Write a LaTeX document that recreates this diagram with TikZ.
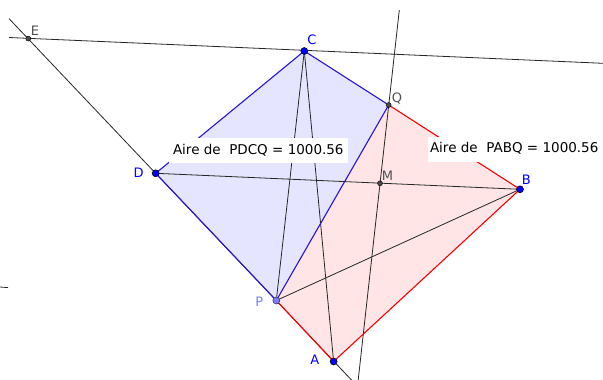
\documentclass[tikz,border=0pt]{standalone}
\usepackage{fontspec}
\setmainfont{DejaVu Sans}
\definecolor{polyblue}{RGB}{40,20,210}
\definecolor{fillblue}{RGB}{229,229,255}
\definecolor{fillred}{RGB}{255,229,229}
\definecolor{ptblue}{RGB}{0,0,255}
\definecolor{ptlight}{RGB}{125,125,255}
\definecolor{lblgray}{RGB}{80,80,80}
\begin{document}
\begin{tikzpicture}[x=1pt,y=-1pt,
  blk/.style={line width=0.8pt, black!85},
  bedge/.style={line width=1.1pt, color=polyblue},
  redge/.style={line width=1.1pt, color=red},
  bpt/.style={circle, fill=ptblue, draw=black, line width=0.5pt, inner sep=0pt, minimum size=7pt},
  lpt/.style={circle, fill=ptlight, draw=black!80, line width=0.5pt, inner sep=0pt, minimum size=7pt},
  gpt/.style={circle, fill=black!70, draw=black, line width=0.4pt, inner sep=0pt, minimum size=5pt},
  lbl/.style={font=\fontsize{13}{15}\selectfont, anchor=base, inner sep=0pt},
  areabox/.style={fill=white, inner ysep=6pt, text height=10pt, text depth=3pt, font=\fontsize{13.5}{16}\selectfont, anchor=west}]
\useasboundingbox (0,0) rectangle (603,380);
% points
\coordinate (E) at (28.3,38.6);
\coordinate (C) at (304.3,51);
\coordinate (Q) at (388.7,105);
\coordinate (D) at (155.7,173.3);
\coordinate (M) at (380,183.3);
\coordinate (B) at (520,189.3);
\coordinate (P) at (276.3,300.5);
\coordinate (A) at (333.6,361.5);
% line ends
\coordinate (Ea) at (9,37.5);
\coordinate (Eb) at (603,63.3);
\coordinate (Da) at (9,18.6);
\coordinate (Db) at (351.5,380);
\coordinate (Va) at (399.3,10);
\coordinate (Vb) at (358.2,380);
\coordinate (Sa) at (0,287);
\coordinate (Sb) at (8,287.6);
% fills
\fill[fillblue] (P) -- (D) -- (C) -- (Q) -- cycle;
\fill[fillred] (P) -- (A) -- (B) -- (Q) -- cycle;
% black lines
\draw[blk] (Ea) -- (Eb);
\draw[blk] (Da) -- (Db);
\draw[blk] (Va) -- (Vb);
\draw[blk] (C) -- (P);
\draw[blk] (C) -- (A);
\draw[blk] (D) -- (B);
\draw[blk] (P) -- (B);
\draw[blk] (Sa) -- (Sb);
% polygon edges
\draw[redge] (P) -- (A) -- (B) -- (Q);
\draw[bedge] (Q) -- (P) -- (D) -- (C) -- (Q);
% area boxes
\node[areabox, inner xsep=4.5pt] (t1) at (168.3,150.7) {Aire de\ \ PDCQ = 1000.56};
\node[areabox, inner xsep=2.5pt] (t2) at (427.3,149.3) {Aire de\ \ PABQ = 1000.56};
% point marks
\node[gpt] at (E) {};
\node[gpt] at (Q) {};
\node[gpt] at (M) {};
\node[bpt] at (C) {};
\node[bpt] at (D) {};
\node[bpt] at (B) {};
\node[bpt] at (A) {};
\node[lpt] at (P) {};
% labels
\node[lbl, text=lblgray] (lE) at (35,35) {E};
\node[lbl, text=ptblue] (lC) at (312,45) {C};
\node[lbl, text=lblgray] (lQ) at (397,102) {Q};
\node[lbl, text=ptblue] (lD) at (138.7,177.7) {D};
\node[lbl, text=lblgray] (lM) at (387.5,180.7) {M};
\node[lbl, text=ptblue] (lB) at (526.3,184) {B};
\node[lbl, text=ptlight] (lP) at (259.2,306.7) {P};
\node[lbl, text=ptblue] (lA) at (314.7,364) {A};
\end{tikzpicture}
\end{document}
